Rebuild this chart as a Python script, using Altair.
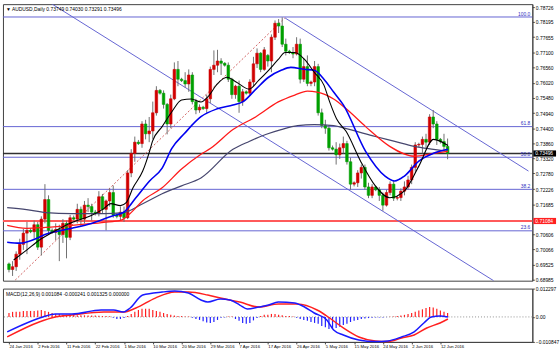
import altair as alt
import pandas as pd

# ---------------- data ----------------
opens = [.6955,.6935,.6945,.6990,.7025,.7065,.7075,.7070,.7095,.7015,.7115,.7185,.7075,.7068,.7078,.7060,.7100,.7050,.7120,.7115,
         .7150,.7115,.7165,.7160,.7140,.7135,.7195,.7150,.7180,.7210,.7130,.7125,.7140,.7120,.7280,.7350,.7390,.7385,.7455,.7420,
         .7430,.7495,.7575,.7565,.7525,.7455,.7545,.7650,.7615,.7610,.7598,.7630,.7535,.7505,.7515,.7510,.7545,.7650,.7665,.7680,
         .7672,.7665,.7615,.7560,.7590,.7535,.7570,.7565,.7605,.7670,.7708,.7650,.7700,.7680,.7765,.7815,.7805,.7740,.7715,.7710,
         .7705,.7740,.7615,.7660,.7600,.7605,.7660,.7495,.7450,.7440,.7370,.7365,.7345,.7370,.7385,.7320,.7240,.7245,.7280,.7300,
         .7230,.7200,.7230,.7220,.7200,.7165,.7210,.7240,.7190,.7192,.7215,.7230,.7255,.7300,.7380,.7382,.7400,.7390,.7480,.7455,
         .7400,.7392,.73749]
highs = [.6960,.6965,.7000,.7045,.7080,.7105,.7082,.7110,.7105,.7125,.7240,.7200,.7082,.7100,.7095,.7115,.7110,.7130,.7128,.7170,
         .7160,.7180,.7190,.7170,.7148,.7215,.7205,.7185,.7225,.7235,.7136,.7160,.7160,.7290,.7365,.7410,.7398,.7465,.7470,.7480,
         .7535,.7590,.7580,.7575,.7530,.7560,.7675,.7680,.7620,.7640,.7650,.7640,.7545,.7525,.7520,.7560,.7660,.7718,.7720,.7690,
         .7676,.7675,.7620,.7595,.7610,.7580,.7575,.7615,.7695,.7725,.7712,.7730,.7705,.7775,.7825,.7830,.7836,.7760,.7720,.7730,
         .7765,.7760,.7690,.7700,.7610,.7680,.7670,.7510,.7470,.7450,.7378,.7390,.7385,.7410,.7395,.7335,.7250,.7290,.7310,.7310,
         .7245,.7240,.7235,.7230,.7210,.7220,.7250,.7255,.7198,.7225,.7250,.7270,.7310,.7390,.7388,.7410,.7420,.7490,.7505,.7465,
         .7405,.7420,.74030]
lows = [.6925,.6912,.6930,.6970,.7005,.6990,.7065,.7045,.7005,.6985,.7100,.7060,.7062,.7040,.6965,.7030,.6975,.7040,.7110,.7100,
        .7090,.7100,.7140,.7110,.7128,.7125,.7135,.7075,.7160,.7120,.7118,.7110,.7105,.7115,.7265,.7320,.7380,.7370,.7400,.7390,
        .7400,.7485,.7560,.7510,.7418,.7440,.7540,.7590,.7605,.7585,.7570,.7525,.7490,.7495,.7505,.7495,.7530,.7630,.7640,.7630,
        .7660,.7605,.7545,.7545,.7495,.7520,.7560,.7555,.7590,.7655,.7640,.7645,.7660,.7640,.7755,.7780,.7730,.7700,.7705,.7690,
        .7700,.7600,.7605,.7590,.7590,.7590,.7485,.7440,.7420,.7360,.7360,.7310,.7330,.7350,.7310,.7220,.7232,.7230,.7260,.7220,
        .7190,.7190,.7215,.7180,.7145,.7160,.7200,.7180,.7182,.7180,.7200,.7220,.7240,.7285,.7372,.7350,.7370,.7380,.7440,.7380,
        .7385,.7360,.73291]
closes = [.6935,.6945,.6990,.7025,.7065,.7075,.7070,.7095,.7015,.7115,.7185,.7075,.7068,.7078,.7060,.7100,.7050,.7120,.7115,.7150,
          .7115,.7165,.7160,.7140,.7135,.7195,.7150,.7180,.7210,.7130,.7125,.7140,.7120,.7280,.7350,.7390,.7385,.7455,.7420,.7430,
          .7495,.7575,.7565,.7525,.7455,.7545,.7650,.7615,.7610,.7598,.7630,.7535,.7505,.7515,.7510,.7545,.7650,.7665,.7680,.7672,
          .7665,.7615,.7560,.7590,.7535,.7570,.7565,.7605,.7670,.7708,.7650,.7720,.7680,.7765,.7815,.7805,.7740,.7715,.7710,.7705,
          .7740,.7615,.7660,.7600,.7605,.7660,.7495,.7450,.7440,.7370,.7365,.7345,.7370,.7385,.7320,.7240,.7245,.7280,.7300,.7230,
          .7200,.7230,.7220,.7200,.7165,.7210,.7240,.7190,.7192,.7215,.7230,.7255,.7300,.7380,.7382,.7400,.7390,.7480,.7455,.7400,
          .7392,.73749,.73496]

# moving averages read at (bar index, price)
ma_black = [(1.3,.69692),(4.9,.70045),(8.4,.70398),(12.1,.70680),(17.5,.71033),(22.9,.71280),(26.4,.71527),(28.3,.71704),
            (31.0,.71633),(32.6,.71739),(34.5,.72268),(37.2,.72868),(39.1,.73574),(39.9,.73927),(42.6,.74456),(45.3,.74986),
            (48.0,.75409),(50.7,.75444),(53.4,.75338),(55.3,.75515),(57.9,.75973),(60.6,.76220),(63.3,.76044),(66.8,.75797),
            (69.5,.76115),(72.2,.76467),(74.9,.76856),(76.8,.77103),(79.5,.77103),(82.2,.76856),(84.9,.76397),(87.6,.75938),
            (89.2,.75338),(91.1,.74738),(93.8,.74279),(97.8,.73221),(101.9,.72339),(105.9,.71915),(110.0,.72162),(114.0,.73045),
            (118.1,.74000),(122.1,.73780)]
ma_blue = [(-0.5,.70327),(3.0,.70292),(8.4,.70504),(10.2,.70609),(17.5,.70821),(22.9,.70997),(29.1,.71280),(31.8,.71386),
           (35.3,.71915),(39.1,.72515),(42.6,.72974),(45.3,.73680),(48.8,.74209),(53.4,.74809),(57.9,.75091),(62.3,.75232),
           (65.0,.75338),(68.7,.75797),(72.2,.76220),(75.7,.76467),(78.4,.76573),(82.2,.76503),(84.9,.76467),(87.6,.76150),
           (90.3,.75691),(93.0,.75232),(99.2,.73574),(104.6,.72691),(107.3,.72515),(110.0,.72691),(114.0,.73221),(118.1,.73503),
           (122.1,.73644)]
ma_red = [(-0.5,.70927),(4.9,.70821),(10.2,.70856),(17.5,.70927),(26.4,.71033),(31.0,.71104),(33.7,.71351),(37.2,.71810),
          (42.6,.72268),(48.0,.72939),(53.4,.73468),(56.1,.73680),(62.3,.74350),(68.7,.74809),(74.9,.75338),(79.5,.75585),
          (83.0,.75726),(85.7,.75691),(90.3,.75444),(93.8,.75091),(99.2,.74456),(105.9,.73750),(112.7,.73397),(118.1,.73503),
          (122.1,.73574)]
ma_slate = [(-0.5,.71562),(4.9,.71492),(10.2,.71386),(17.5,.71350),(26.4,.71350),(31.8,.71386),(37.2,.71703),(42.6,.72056),
            (48.0,.72339),(53.4,.72621),(62.3,.73644),(66.8,.73927),(71.4,.74174),(75.7,.74350),(80.3,.74491),(84.9,.74526),
            (90.3,.74491),(93.8,.74385),(101.9,.74103),(107.3,.73927),(112.7,.73750),(118.1,.73644),(122.1,.73574)]

# MACD(12,26,9)
macd_main = [(-0.5,-.006521),(9.4,-.000032),(12.9,.001266),(17.5,.001266),(25.6,.002998),(29.1,.002998),(31.8,.002131),
             (33.7,.003864),(37.2,.009486),(42.6,.010784),(46.1,.011217),(49.9,.010352),(53.4,.007327),(55.3,.006459),
             (58.8,.007757),(61.5,.007325),(64.2,.005159),(66.3,.003429),(69.5,.004294),(72.2,.005159),(74.9,.006457),
             (79.5,.006024),(81.1,.005159),(84.9,.001698),(88.4,-.001330),(90.3,-.005656),(93.0,-.007819),(97.3,-.009982),
             (101.9,-.010700),(105.4,-.010415),(109.2,-.008684),(112.7,-.006521),(115.4,-.002628),(117.5,-.000032),
             (119.9,.000400),(122.1,-.000032)]
macd_signal = [(-0.5,-.008684),(8.4,-.002196),(12.9,-.000032),(17.5,.000833),(26.4,.002131),(31.8,.002131),(35.3,.003864),
               (40.7,.008188),(46.1,.010784),(49.9,.010784),(55.3,.009486),(58.8,.008188),(64.2,.006457),(69.5,.004294),
               (74.9,.005592),(80.3,.005592),(85.7,.002996),(89.2,-.000465),(93.0,-.004791),(97.3,-.008684),(101.9,-.010415),
               (105.4,-.010700),(109.2,-.009117),(112.7,-.007819),(116.2,-.004791),(119.9,-.002628),(122.1,-.000898)]
macd_hist = [.0017,.0022,.0022,.0022,.0026,.0026,.0026,.0026,.0028,.0030,.0026,.0022,
             .0017,.0013,.0013,.0009,.0009,.0009,.0008,.0007,.0007,.0007,.0006,.0006,.0006,.0005,.0004,.0004,.0003,
             -.0004,-.0009,-.0009,-.0005,
             .0004,.0013,.0022,.0030,.0035,.0035,.0035,.0030,.0026,.0022,.0017,.0013,
             .0009,.0006,.0004,.0004,.0002,.0002,
             -.0004,-.0009,-.0013,-.0019,-.0024,-.0026,-.0022,-.0013,
             -.0004,-.0002,.0002,.0002,
             -.0009,-.0017,-.0026,-.0030,-.0026,-.0015,-.0005,
             .0004,.0009,.0009,.0013,.0013,.0009,.0007,.0004,.0004,
             .0002,-.0004,-.0009,-.0013,
             -.0017,-.0022,-.0026,-.0030,-.0039,-.0045,-.0052,-.0052,-.0048,-.0043,-.0035,-.0030,-.0022,-.0017,-.0013,
             -.0009,-.0007,-.0005,-.0004,-.0003,-.0002,-.0002,-.0001,
             .0001,.0002,.0004,.0006,.0009,
             .0013,.0017,.0022,.0028,.0033,.0039,.0043,.0041,
             .0035,.0028,.0022,.0017]

tick_idx = [0, 8, 16, 24, 32, 40, 48, 56, 64, 72, 80, 88, 96, 104, 112, 120]
tick_text = ["24 Jan 2016", "2 Feb 2016", "11 Feb 2016", "22 Feb 2016", "1 Mar 2016", "10 Mar 2016", "20 Mar 2016",
             "29 Mar 2016", "7 Apr 2016", "17 Apr 2016", "26 Apr 2016", "5 May 2016", "15 May 2016", "24 May 2016",
             "2 Jun 2016", "12 Jun 2016"]
price_ticks = [0.78726, 0.78195, 0.77655, 0.77100, 0.76560, 0.76020, 0.75480, 0.74940, 0.74400, 0.73860, 0.73320,
               0.72780, 0.72226, 0.71685, 0.70606, 0.70066, 0.69525, 0.68985]
macd_ticks = [0.012297, 0.0, -0.010847]

fib_labels = ["100.0", "61.8", "50.0", "38.2", "23.6"]
fib_prices = [0.78373, 0.74456, 0.73362, 0.72215, 0.70733]
last_price = 0.73496
level_price = 0.71084
fib_trend = [(-3.0, 0.6838), (76.8, 0.7835)]
chan_lower = [(11.6, 0.78867), (134.8, 0.68951)]
chan_upper = [(76.8, 0.78338), (144.5, 0.72868)]

header = "\u25bc AUDUSD,Daily  0.73749 0.74030 0.73291 0.73496"
macd_header = "MACD(12,26,9) 0.001084 -0.000241 0.001325 0.000000"

# ---------------- chart ----------------
FONT = "Liberation Sans"
FS = 5
FSX = 4.3
W, H1, H2 = 536, 280, 54
FIB = "#6464d2"

df = pd.DataFrame({"i": range(len(closes)), "o": opens, "h": highs, "l": lows, "c": closes})
xs = alt.Scale(domain=[-0.3, 144.2], nice=False, zero=False)
ys = alt.Scale(domain=[0.68951, 0.78832], nice=False, zero=False)
ms = alt.Scale(domain=[-0.010847, 0.012297], nice=False, zero=False)

yax = alt.Axis(orient="right", values=price_ticks, format=".5f", title=None, grid=False,
               labelFont=FONT, labelFontSize=FS, labelColor="#000", labelPadding=1, labelOverlap=False,
               labelFlush=False, tickSize=2, tickColor="#444", domainColor="#444")
X0 = alt.X("i:Q", scale=xs, axis=None)


def Y(field):
    return alt.Y(field, scale=ys, axis=yax)


def line_df(pts):
    return pd.DataFrame({"i": [p[0] for p in pts], "p": [p[1] for p in pts]})


hl = pd.DataFrame({"p": fib_prices, "lab": fib_labels})
fib_rules = alt.Chart(hl).mark_rule(color=FIB, strokeWidth=1).encode(y=Y("p:Q"))
fib_text = alt.Chart(hl).mark_text(align="right", baseline="bottom", dy=-0.5, font=FONT, fontSize=FS,
                                   color="#3030c0").encode(x=alt.value(W - 2), y=Y("p:Q"), text="lab:N")
lvl = pd.DataFrame({"p": [level_price]})
lvl_rule = alt.Chart(lvl).mark_rule(color="#ff5a5a", strokeWidth=2).encode(y=Y("p:Q"))
cur = pd.DataFrame({"p": [last_price]})
cur_rule = alt.Chart(cur).mark_rule(color="#303030", strokeWidth=1.3).encode(y=Y("p:Q"))

trend = alt.Chart(line_df(fib_trend)).mark_line(color="#d06060", strokeWidth=1, strokeDash=[2, 2],
                                                 clip=True).encode(x=X0, y=Y("p:Q"))
lower = alt.Chart(line_df(chan_lower)).mark_line(color=FIB, strokeWidth=1, clip=True).encode(x=X0, y=Y("p:Q"))
upper = alt.Chart(line_df(chan_upper)).mark_line(color=FIB, strokeWidth=1, clip=True).encode(x=X0, y=Y("p:Q"))

wicks = alt.Chart(df).mark_rule(color="#707070", strokeWidth=1).encode(x=X0, y=Y("l:Q"), y2="h:Q")
up_cond = "datum.c >= datum.o"
bodies = alt.Chart(df).mark_bar(size=2.6, strokeWidth=0.6).encode(
    x=X0, y=Y("o:Q"), y2="c:Q",
    color=alt.condition(up_cond, alt.value("#d00000"), alt.value("#00a000")),
    stroke=alt.condition(up_cond, alt.value("#d00000"), alt.value("#00a000")))

ma_rows = []
for name, pts in [("slate", ma_slate), ("red", ma_red), ("blue", ma_blue), ("black", ma_black)]:
    for a, b in pts:
        ma_rows.append({"i": a, "p": b, "ma": name})
ma_df = pd.DataFrame(ma_rows)


def ma_line(name, color, w):
    return alt.Chart(ma_df).transform_filter(f"datum.ma == '{name}'").mark_line(
        color=color, strokeWidth=w, interpolate="monotone").encode(x=X0, y=Y("p:Q"))


mas = [ma_line("slate", "#46466e", 1.2), ma_line("red", "#ff1a1a", 1.3),
       ma_line("blue", "#0000f0", 1.6), ma_line("black", "#000000", 1.1)]

box_df = pd.DataFrame({"p": [last_price, level_price], "col": ["#000000", "#ff2020"],
                       "lab": [f"{last_price:.5f}", f"{level_price:.5f}"]})
boxes = alt.Chart(box_df).transform_calculate(top="datum.p + 0.0011", bot="datum.p - 0.0011").mark_rect().encode(
    x=alt.value(W + 1), x2=alt.value(W + 24), y=Y("top:Q"), y2="bot:Q", color=alt.Color("col:N", scale=None))
box_text = alt.Chart(box_df).mark_text(align="left", baseline="middle", font=FONT, fontSize=FS,
                                       color="white").encode(x=alt.value(W + 3), y=Y("p:Q"), text="lab:N")
head = alt.Chart(pd.DataFrame({"t": [header]})).mark_text(
    align="left", baseline="middle", font=FONT, fontSize=FS, color="#000").encode(
    x=alt.value(3), y=alt.value(5), text="t:N")

main = alt.layer(fib_rules, lvl_rule, cur_rule, trend, lower, upper, wicks, bodies, *mas,
                 fib_text, boxes, box_text, head).properties(width=W, height=H1)

# ---- MACD panel ----
expr = "".join(f"datum.value == {a} ? '{b}' : " for a, b in zip(tick_idx, tick_text)) + "''"
xax = alt.Axis(values=tick_idx, labelExpr=expr, title=None, grid=False, labelAlign="left", labelFont=FONT,
               labelFontSize=FSX, labelColor="#000", labelPadding=1, labelOverlap=False, labelFlush=False,
               tickSize=2, tickColor="#444", domainColor="#444")
max_ = alt.Axis(orient="right", values=macd_ticks, title=None, grid=False,
                labelExpr="datum.value == 0 ? '0.00' : format(datum.value, '.6f')",
                labelFont=FONT, labelFontSize=FS, labelColor="#000", labelPadding=1, labelOverlap=False,
                labelFlush=False, tickSize=2, tickColor="#444", domainColor="#444")
X1 = alt.X("i:Q", scale=xs, axis=xax)


def M(field):
    return alt.Y(field, scale=ms, axis=max_)


hdf = pd.DataFrame({"i": range(len(macd_hist)), "v": macd_hist})
zero = alt.Chart(pd.DataFrame({"i": [0], "v": [0.0]})).mark_rule(
    color="#909090", strokeDash=[1, 2], strokeWidth=1).encode(y=M("v:Q"))
hist = alt.Chart(hdf).mark_bar(size=1.2).encode(
    x=X1, y=M("v:Q"), y2=alt.datum(0),
    color=alt.condition("datum.v >= 0", alt.value("#ff2020"), alt.value("#2020ff")))


def mline(pts, color):
    return alt.Chart(pd.DataFrame({"i": [p[0] for p in pts], "v": [p[1] for p in pts]})).mark_line(
        color=color, strokeWidth=1.5, interpolate="monotone").encode(x=X1, y=M("v:Q"))


mhead = alt.Chart(pd.DataFrame({"t": [macd_header]})).mark_text(
    align="left", baseline="middle", font=FONT, fontSize=FS, color="#000").encode(
    x=alt.value(3), y=alt.value(6), text="t:N")

macd = alt.layer(zero, hist, mline(macd_signal, "#ff2020"), mline(macd_main, "#1a1aff"), mhead).properties(
    width=W, height=H2)

chart = alt.vconcat(main, macd, spacing=2).properties(
    padding={"left": 1, "top": 1, "right": 0, "bottom": 0}, background="white"
).configure_view(stroke="#404040", strokeWidth=1)

chart.save("out.html", embed_options={"renderer": "svg", "actions": False})
